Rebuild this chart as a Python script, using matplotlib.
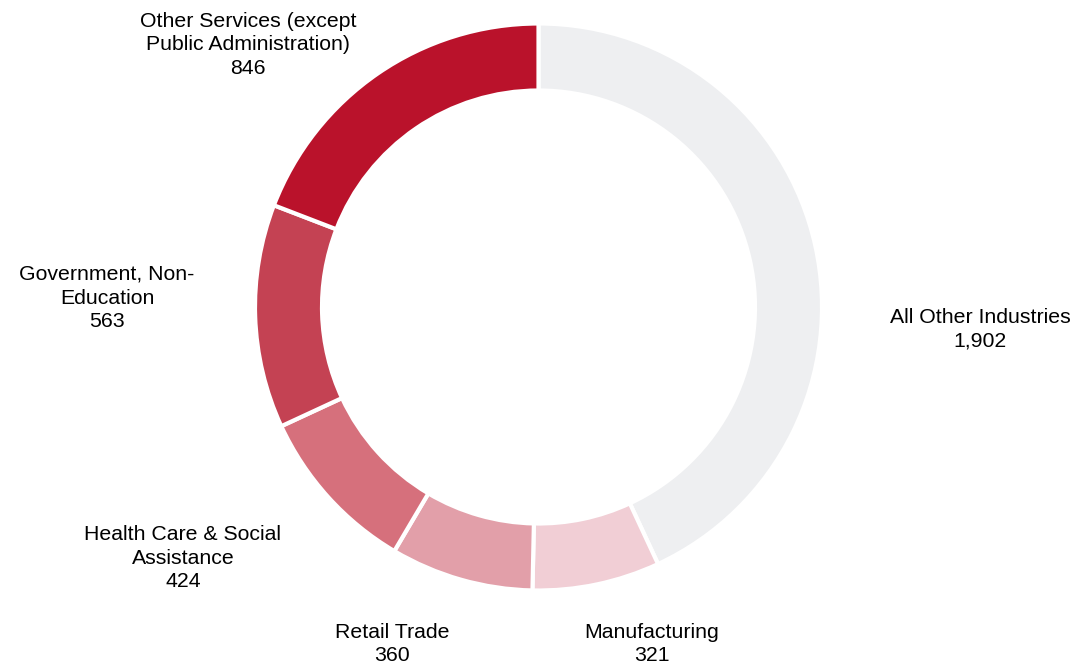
import matplotlib
matplotlib.use("Agg")
import matplotlib.pyplot as plt

# data (clockwise from 12 o'clock)
industries = ["All Other Industries", "Manufacturing", "Retail Trade",
              "Health Care & Social\nAssistance", "Government, Non-\nEducation",
              "Other Services (except\nPublic Administration)"]
counts = [1902, 321, 360, 424, 563, 846]
colors = ["#EEEFF1", "#F1CED5", "#E29FA9", "#D6707C", "#C44253", "#BA122B"]

# label anchor points in pixels (x, y from top)
label_pos = [(980, 329), (652, 644), (392, 644), (183, 558), (107, 298), (248, 45)]

W, H = 1081, 671
fig = plt.figure(figsize=(W / 100, H / 100), dpi=100)
ax = fig.add_axes([0, 0, 1, 1])
cx, cy, R = 538.5, H - 307, 283.5

ax.pie(counts, colors=colors, startangle=90, counterclock=False,
       center=(cx, cy), radius=R,
       wedgeprops=dict(width=67, edgecolor="white", linewidth=3))
ax.set_xlim(0, W); ax.set_ylim(0, H)
ax.set_aspect("equal"); ax.axis("off")

for name, val, (x, y) in zip(industries, counts, label_pos):
    ax.text(x, H - y, f"{name}\n{val:,}", ha="center", va="center",
            fontsize=15.3, family="Liberation Sans", color="black", linespacing=1.33)

plt.savefig("out.png", dpi=100)
plt.close()
